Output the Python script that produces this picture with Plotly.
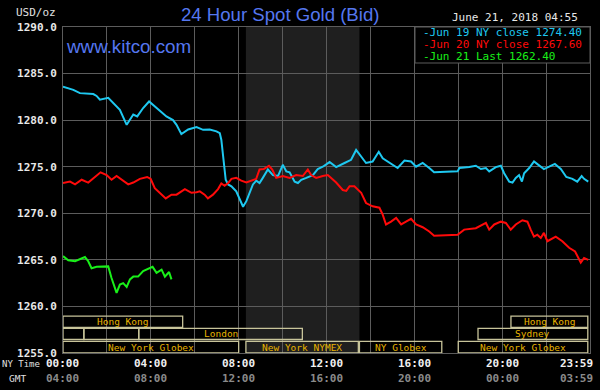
import plotly.graph_objects as go

# ---------------- data ----------------
series_names = ["Jun 19 NY close", "Jun 20 NY close", "Jun 21 Last"]
series_last = [1274.40, 1267.60, 1262.40]
series_colors = ["#1ec8f0", "#ff0a0a", "#19f019"]

jun19_t = [0.00, 0.47, 0.77, 1.38, 1.53, 1.68, 2.06, 2.36, 2.59, 2.90, 3.05, 3.20, 3.38, 3.65,
           3.92, 4.10, 4.41, 4.71, 5.01, 5.17, 5.39, 5.70, 6.08, 6.38, 6.68, 6.99, 7.14, 7.21,
           7.29, 7.36, 7.41, 7.52, 7.67, 7.89, 8.05, 8.20, 8.35, 8.50, 8.65, 8.80, 8.95, 9.10,
           9.33, 9.56, 9.79, 10.01, 10.17, 10.32, 10.55, 10.70, 10.85, 11.08, 11.38, 11.60,
           11.83, 12.14, 12.44, 12.82, 13.12, 13.35, 13.58, 13.80, 14.10, 14.38, 14.56, 14.86,
           15.24, 15.55, 15.85, 16.08, 16.38, 16.68, 16.90, 17.97, 18.05, 18.50, 18.80, 19.03,
           19.26, 19.41, 19.71, 19.94, 20.09, 20.32, 20.47, 20.62, 20.77, 20.90, 21.00, 21.23,
           21.45, 21.65, 21.90, 22.14, 22.40, 22.67, 22.92, 23.20, 23.42, 23.62, 23.73, 23.92]
jun19_v = [1283.6, 1283.25, 1282.9, 1282.8, 1282.6, 1282.2, 1282.4, 1281.6, 1281.1, 1279.5,
           1280.0, 1280.6, 1280.4, 1281.3, 1282.0, 1281.6, 1281.0, 1280.4, 1280.0, 1279.5,
           1278.5, 1279.0, 1279.25, 1278.96, 1279.0, 1278.8, 1278.6, 1277.9, 1276.1, 1274.7,
           1273.6, 1273.1, 1272.9, 1272.35, 1271.5, 1270.7, 1271.3, 1272.2, 1273.1, 1273.5,
           1273.25, 1273.8, 1274.7, 1274.1, 1274.0, 1275.2, 1274.5, 1274.4, 1273.4, 1273.25,
           1273.6, 1273.8, 1274.1, 1274.75, 1275.0, 1275.5, 1274.96, 1275.4, 1275.74, 1276.8,
           1276.1, 1275.4, 1275.56, 1276.6, 1275.9, 1275.4, 1274.86, 1275.67, 1275.56, 1275.0,
           1275.4, 1274.86, 1274.4, 1274.5, 1274.86, 1274.96, 1275.1, 1274.75, 1274.86, 1274.5,
           1274.96, 1275.1, 1274.3, 1273.4, 1273.3, 1273.8, 1274.1, 1273.4, 1274.3, 1274.86,
           1275.56, 1275.2, 1274.75, 1275.0, 1275.3, 1274.75, 1273.9, 1273.7, 1273.4, 1274.0,
           1273.7, 1273.4]

jun20_t = [0.00, 0.32, 0.55, 0.85, 1.15, 1.45, 1.71, 1.99, 2.21, 2.44, 2.67, 2.97, 3.20, 3.50,
           3.83, 3.99, 4.18, 4.41, 4.68, 4.94, 5.17, 5.55, 5.85, 6.08, 6.23, 6.45, 6.60, 6.83,
           7.06, 7.21, 7.36, 7.52, 7.67, 7.89, 8.12, 8.35, 8.58, 8.80, 8.95, 9.14, 9.38, 9.53,
           9.71, 10.01, 10.32, 10.62, 10.92, 11.15, 11.30, 11.53, 11.83, 12.06, 12.44, 12.74,
           12.90, 13.05, 13.27, 13.58, 13.80, 14.10, 14.41, 14.56, 14.71, 14.94, 15.17, 15.40,
           15.62, 15.85, 16.08, 16.38, 16.68, 16.90, 17.97, 18.27, 18.80, 19.10, 19.26, 19.41,
           19.64, 19.94, 20.17, 20.39, 20.62, 20.92, 21.15, 21.30, 21.45, 21.60, 21.76, 21.90,
           22.06, 22.44, 22.74, 23.05, 23.32, 23.58, 23.73, 23.92]
jun20_v = [1273.25, 1273.4, 1273.1, 1273.6, 1273.3, 1273.9, 1274.4, 1274.1, 1273.6, 1274.0,
           1273.6, 1273.1, 1273.3, 1273.7, 1273.9, 1273.7, 1272.7, 1272.2, 1271.6, 1272.0,
           1272.0, 1272.6, 1272.2, 1272.25, 1272.35, 1272.0, 1271.6, 1272.0, 1272.6, 1273.2,
           1272.95, 1273.25, 1273.7, 1273.8, 1273.5, 1273.3, 1273.5, 1273.7, 1274.7, 1274.75,
           1275.1, 1274.7, 1273.8, 1274.0, 1273.8, 1274.1, 1274.0, 1274.7, 1274.1, 1273.8,
           1274.0, 1274.1, 1273.3, 1272.5, 1272.4, 1272.9, 1272.9, 1272.2, 1271.1, 1270.75,
           1270.6, 1269.85, 1268.8, 1269.1, 1269.5, 1268.8, 1269.1, 1269.4, 1268.8, 1268.5,
           1268.05, 1267.6, 1267.7, 1268.25, 1268.4, 1268.8, 1268.96, 1268.25, 1268.8, 1269.1,
           1268.96, 1268.25, 1268.8, 1269.25, 1269.1, 1268.25, 1267.5, 1267.7, 1267.35, 1267.9,
           1267.0, 1267.5, 1267.0, 1266.3, 1265.9, 1264.7, 1265.2, 1265.0]

jun21_t = [0.00, 0.24, 0.55, 0.77, 1.00, 1.15, 1.30, 1.53, 1.83, 2.06, 2.21, 2.44, 2.59, 2.74,
           2.90, 3.05, 3.20, 3.42, 3.65, 3.88, 4.08, 4.26, 4.49, 4.64, 4.83, 4.94]
jun21_v = [1265.4, 1264.95, 1264.85, 1265.1, 1265.3, 1264.85, 1264.1, 1264.25, 1264.25, 1264.3,
           1263.05, 1261.45, 1262.35, 1262.5, 1262.1, 1262.9, 1263.2, 1263.2, 1263.8, 1264.05,
           1264.25, 1263.6, 1263.95, 1263.2, 1263.7, 1262.9]

y_ticks = [1255, 1260, 1265, 1270, 1275, 1280, 1285, 1290]
x_tick_hours = [0, 4, 8, 12, 16, 20, 23.98]
ny_time_labels = ["00:00", "04:00", "08:00", "12:00", "16:00", "20:00", "23:59"]
gmt_labels = ["04:00", "08:00", "12:00", "16:00", "20:00", "00:00", "03:59"]

nymex_start, nymex_end = 8.33, 13.5

session_names = ["Hong Kong", "Hong Kong", "", "", "London", "Sydney",
                 "New York Globex", "New York NYMEX", "NY Globex", "New York Globex"]
session_start = [0.0, 20.4, 0.0, 0.95, 3.45, 18.9, 0.0, 8.33, 13.5, 18.0]
session_end = [5.45, 23.9, 0.95, 3.45, 10.9, 23.9, 8.0, 13.45, 17.25, 23.9]
session_row = [0, 0, 1, 1, 1, 1, 2, 2, 2, 2]

title_text = "24 Hour Spot Gold (Bid)"
site_text = "www.kitco.com"
unit_text = "USD/oz"
stamp_text = "June 21, 2018 04:55"

# ---------------- styling ----------------
MONO = "DejaVu Sans Mono"
SANS = "Liberation Sans"
GRID = "#5c5c5c"
BOX_LINE = "#c8c49a"
BOX_TEXT = "#e8b400"
ROW_Y = [(1257.75, 1258.95), (1256.45, 1257.65), (1255.0, 1256.25)]

fig = go.Figure()
for t, v, c in [(jun19_t, jun19_v, series_colors[0]),
                (jun20_t, jun20_v, series_colors[1]),
                (jun21_t, jun21_v, series_colors[2])]:
    fig.add_trace(go.Scatter(x=t, y=v, mode="lines", line=dict(color=c, width=2),
                             showlegend=False, hoverinfo="skip"))

shapes = [dict(type="rect", xref="x", yref="paper", x0=nymex_start, x1=nymex_end, y0=0, y1=1,
               fillcolor="#1f1f1f", line=dict(width=0), layer="below")]
annotations = []
for name, s, e, r in zip(session_names, session_start, session_end, session_row):
    y0, y1 = ROW_Y[r]
    shapes.append(dict(type="rect", xref="x", yref="y", x0=s, x1=e, y0=y0, y1=y1,
                       fillcolor="rgba(0,0,0,0)", line=dict(color=BOX_LINE, width=1.3),
                       layer="above"))
    if name:
        annotations.append(dict(x=(s + e) / 2, y=(y0 + y1) / 2, xref="x", yref="y", text=name,
                                showarrow=False, font=dict(family=MONO, size=9.5, color=BOX_TEXT)))

# legend box
PW, PH = 527.0, 326.0
def px(xp):
    return (xp - 63) / PW
def py(yp):
    return (353 - yp) / PH

shapes.append(dict(type="rect", xref="paper", yref="paper", x0=px(415), x1=px(590),
                   y0=py(63), y1=py(27), fillcolor="#000000", line=dict(color=GRID, width=1),
                   layer="above"))
for i, (n, last, c) in enumerate(zip(series_names, series_last, series_colors)):
    annotations.append(dict(x=px(421), y=py(32.5 + 11.8 * i), xref="paper", yref="paper",
                            xanchor="left", yanchor="middle", showarrow=False,
                            text=f"-{n} {last:.2f}",
                            font=dict(family=MONO, size=11, color=c)))

# axis time labels
for h, a, b in zip(x_tick_hours, ny_time_labels, gmt_labels):
    xa = "right" if h > 23 else "center"
    xx = px(595) if h > 23 else px(63 + 22 * h - 1)
    annotations.append(dict(x=xx, y=py(363), xref="paper", yref="paper", xanchor=xa,
                            yanchor="middle", showarrow=False, text=a,
                            font=dict(family=MONO, size=11, color="#f0f0f0", weight="bold")))
    annotations.append(dict(x=xx, y=py(378), xref="paper", yref="paper", xanchor=xa,
                            yanchor="middle", showarrow=False, text=b,
                            font=dict(family=MONO, size=11, color="#8a8a8a", weight="bold")))
annotations.append(dict(x=px(42), y=py(364), xref="paper", yref="paper", xanchor="right",
                        yanchor="middle", showarrow=False, text="NY Time",
                        font=dict(family=MONO, size=9, color="#e0e0e0")))
annotations.append(dict(x=px(28), y=py(378), xref="paper", yref="paper", xanchor="right",
                        yanchor="middle", showarrow=False, text="GMT",
                        font=dict(family=MONO, size=9.5, color="#e0e0e0")))

# texts
annotations.append(dict(x=px(280), y=py(15), xref="paper", yref="paper", xanchor="center",
                        yanchor="middle", showarrow=False, text=title_text,
                        font=dict(family=SANS, size=18.6, color="#5577f0")))
annotations.append(dict(x=px(64), y=py(47), xref="paper", yref="paper", xanchor="left",
                        yanchor="middle", showarrow=False, text=site_text,
                        font=dict(family=SANS, size=18.8, color="#5577f0")))
annotations.append(dict(x=px(58), y=py(12), xref="paper", yref="paper", xanchor="right",
                        yanchor="middle", showarrow=False, text=unit_text,
                        font=dict(family=MONO, size=11, color="#e0e0e0")))
annotations.append(dict(x=px(580), y=py(18), xref="paper", yref="paper", xanchor="right",
                        yanchor="middle", showarrow=False, text=stamp_text,
                        font=dict(family=MONO, size=11, color="#e8e8e8")))

fig.update_layout(
    width=600, height=390,
    margin=dict(l=63, r=10, t=27, b=37),
    paper_bgcolor="#000000", plot_bgcolor="#000000",
    shapes=shapes, annotations=annotations,
    xaxis=dict(range=[0, 24], tick0=0, dtick=2, showgrid=True, gridcolor=GRID, gridwidth=1,
               showticklabels=False, ticks="", zeroline=False, showline=True, linecolor=GRID,
               mirror=True, fixedrange=True),
    yaxis=dict(range=[1255, 1290], tickvals=y_ticks, ticktext=[f"{v:.1f}" for v in y_ticks],
               showgrid=True, gridcolor=GRID, gridwidth=1, zeroline=False, showline=True,
               linecolor=GRID, mirror=True, ticks="outside", ticklen=3, tickcolor="#000000",
               tickfont=dict(family=MONO, size=11, color="#e8e8e8", weight="bold"),
               fixedrange=True),
)

fig.write_html("out.html", config={"displayModeBar": False},
               post_script="document.body.style.margin='0';document.body.style.background='#000';")
